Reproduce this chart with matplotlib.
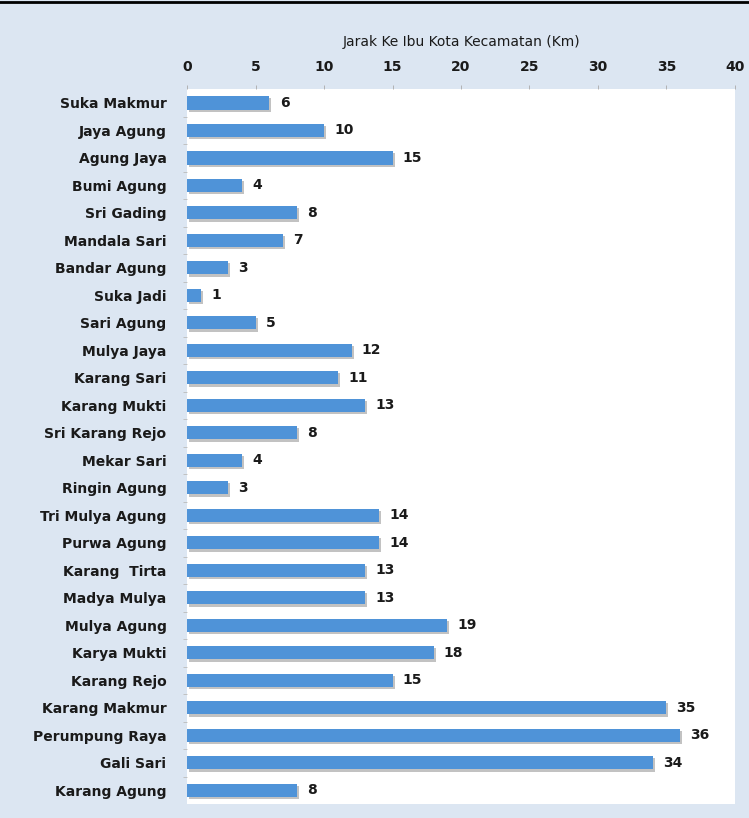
import matplotlib
matplotlib.use("Agg")
import matplotlib.pyplot as plt
import matplotlib.patheffects as pe

desa = ["Suka Makmur", "Jaya Agung", "Agung Jaya", "Bumi Agung", "Sri Gading",
        "Mandala Sari", "Bandar Agung", "Suka Jadi", "Sari Agung", "Mulya Jaya",
        "Karang Sari", "Karang Mukti", "Sri Karang Rejo", "Mekar Sari", "Ringin Agung",
        "Tri Mulya Agung", "Purwa Agung", "Karang  Tirta", "Madya Mulya", "Mulya Agung",
        "Karya Mukti", "Karang Rejo", "Karang Makmur", "Perumpung Raya", "Gali Sari",
        "Karang Agung"]
jarak = [6, 10, 15, 4, 8, 7, 3, 1, 5, 12, 11, 13, 8, 4, 3, 14, 14, 13, 13, 19,
         18, 15, 35, 36, 34, 8]
xticks = [0, 5, 10, 15, 20, 25, 30, 35, 40]

bg = "#dce6f2"
fig = plt.figure(figsize=(7.49, 8.18), dpi=100, facecolor=bg)
ax = fig.add_axes([0.25, 0.017, 0.731, 0.874])
ax.set_facecolor("white")

pos = list(range(len(desa)))
bars = ax.barh(pos, jarak, height=0.48, color="#4f93d8", edgecolor="none", zorder=3)
for b in bars:
    b.set_path_effects([pe.SimplePatchShadow(offset=(1.5, -1.5), shadow_rgbFace="#9a9a9a", alpha=0.6),
                        pe.Normal()])

for y, v in zip(pos, jarak):
    ax.text(v + 0.75, y, str(v), va="center", ha="left", fontsize=10,
            fontweight="bold", color="#1a1a1a")

ax.set_xlim(0, 40)
ax.set_ylim(len(desa) - 0.5, -0.5)
ax.set_yticks(pos)
ax.set_yticklabels(desa, fontsize=10, fontweight="bold", color="#1a1a1a")
ax.set_yticks([p + 0.5 for p in pos[:-1]], minor=True)
ax.set_xticks(xticks)
ax.set_xticklabels([str(t) for t in xticks], fontsize=10, fontweight="bold", color="#1a1a1a")
ax.xaxis.tick_top()
ax.xaxis.set_label_position("top")
ax.set_xlabel("Jarak Ke Ibu Kota Kecamatan (Km)", fontsize=10, color="#1a1a1a", labelpad=10)
ax.tick_params(axis="x", length=3, width=0.6, color="#aaaaaa", pad=8)
ax.tick_params(axis="y", which="major", length=0, pad=15)
ax.tick_params(axis="y", which="minor", length=3, width=0.6, color="#bbbbbb")
for s in ax.spines.values():
    s.set_visible(False)

# black rule at the very top of the picture
fig.add_artist(plt.Line2D([0, 1], [0.998, 0.998], color="black", lw=2,
                          transform=fig.transFigure))

fig.savefig("out.png", dpi=100, facecolor=bg)
